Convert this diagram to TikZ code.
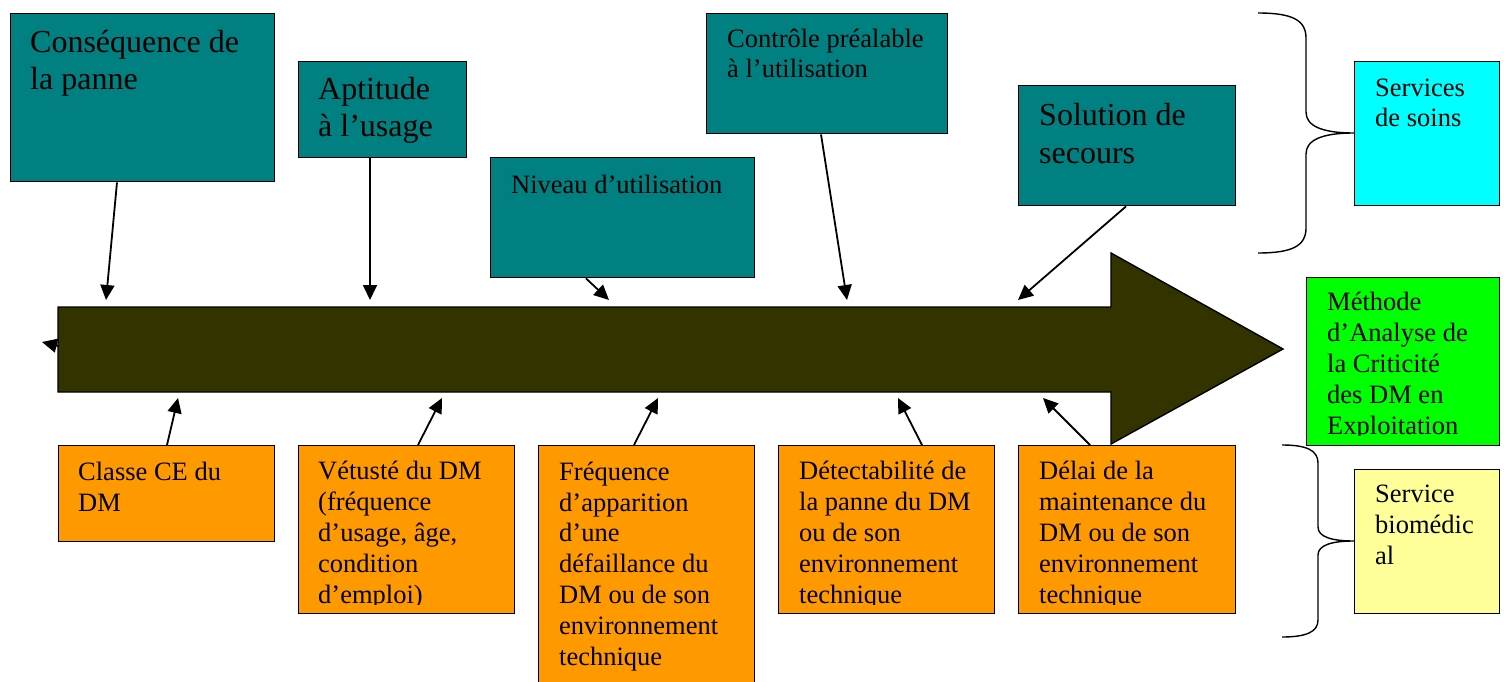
\documentclass[tikz,border=0pt]{standalone}
\usepackage{fontspec}
\setmainfont{Liberation Serif}
\usetikzlibrary{arrows.meta}

\definecolor{causeteal}{HTML}{008080}
\definecolor{factororange}{HTML}{FF9900}
\definecolor{shaftolive}{HTML}{333300}
\definecolor{soinscyan}{HTML}{00FFFF}
\definecolor{methgreen}{HTML}{00FF00}
\definecolor{bioyellow}{HTML}{FFFF99}

\tikzset{
  cause/.style={draw, line width=1.4pt, fill=causeteal, anchor=north west, inner sep=0pt},
  factor/.style={draw, line width=1.4pt, fill=factororange, anchor=north west, inner sep=0pt},
  % text nodes are placed by the baseline of their last line
  bigtxt/.style={anchor=base west, align=left, inner sep=0pt, font=\fontsize{32}{37.5}\selectfont},
  smalltxt/.style={anchor=base west, align=left, inner sep=0pt, font=\fontsize{26.5}{30.8}\selectfont},
  arr/.style={line width=1.8pt, -{Triangle[length=15pt,width=14pt]}},
  brace/.style={line width=1.4pt}
}

\begin{document}
\begin{tikzpicture}[x=1pt,y=-1pt]
  \useasboundingbox (0,0) rectangle (1504,682);

  % the main arrow
  \filldraw[fill=shaftolive, line width=1.4pt] (58,307) -- (1111,307) -- (1111,253) -- (1283,349)
    -- (1111,444) -- (1111,392) -- (58,392) -- cycle;

  % causes above
  \node[cause, minimum width=264, minimum height=168] (cons) at (10,13) {};
  \node[bigtxt] (consT) at (30,90) {Conséquence de\\la panne};
  \node[cause, minimum width=168, minimum height=96] (apt) at (298,61) {};
  \node[bigtxt] (aptT) at (318,137) {Aptitude\\à l’usage};
  \node[cause, minimum width=264, minimum height=120] (niv) at (490,157) {};
  \node[smalltxt] (nivT) at (511,193) {Niveau d’utilisation};
  \node[cause, minimum width=241, minimum height=120] (ctrl) at (706,13) {};
  \node[smalltxt] (ctrlT) at (727,78) {Contrôle préalable\\à l’utilisation};
  \node[cause, minimum width=217, minimum height=120] (sol) at (1018,85) {};
  \node[bigtxt] (solT) at (1039,163) {Solution de\\secours};

  % factors below
  \node[factor, minimum width=216, minimum height=96] (cls) at (58,445) {};
  \node[smalltxt] (clsT) at (78,511) {Classe CE du\\DM};
  \node[factor, minimum width=216, minimum height=168] (vet) at (298,445) {};
  \begin{scope}
    \clip (298,445) rectangle (514,604);
    \node[smalltxt] (vetT) at (318,603) {Vétusté du DM\\(fréquence\\d’usage, âge,\\condition\\d’emploi)};
  \end{scope}
  \node[factor, minimum width=216, minimum height=245] (freq) at (538,445) {};
  \node[smalltxt] (freqT) at (559,665) {Fréquence\\d’apparition\\d’une\\défaillance du\\DM ou de son\\environnement\\technique};
  \node[factor, minimum width=216, minimum height=168] (det) at (778,445) {};
  \begin{scope}
    \clip (778,445) rectangle (994,604);
    \node[smalltxt] (detT) at (799,603) {Détectabilité de\\la panne du DM\\ou de son\\environnement\\technique};
  \end{scope}
  \node[factor, minimum width=217, minimum height=168] (del) at (1018,445) {};
  \begin{scope}
    \clip (1018,445) rectangle (1235,604);
    \node[smalltxt] (delT) at (1039,603) {Délai de la\\maintenance du\\DM ou de son\\environnement\\technique};
  \end{scope}

  % right column
  \node[draw, line width=1.4pt, fill=soinscyan, anchor=north west, minimum width=145, minimum height=144] (soins) at (1354,61) {};
  \node[smalltxt] (soinsT) at (1375,127) {Services\\de soins};
  \node[draw, line width=1.4pt, fill=methgreen, anchor=north west, minimum width=193, minimum height=168] (meth) at (1306,277) {};
  \begin{scope}
    \clip (1306,277) rectangle (1499,435);
    \node[smalltxt] (methT) at (1327,434) {Méthode\\d’Analyse de\\la Criticité\\des DM en\\Exploitation};
  \end{scope}
  \node[draw, line width=1.4pt, fill=bioyellow, anchor=north west, minimum width=145, minimum height=144] (bio) at (1354,469) {};
  \node[smalltxt] (bioT) at (1375,564) {Service\\biomédic\\al};

  % braces
  \draw[brace] (1258,13) .. controls (1292,13) and (1306,20) .. (1306,38) -- (1306,112)
    .. controls (1306,126) and (1322,133) .. (soins.west |- 0,133)
    .. controls (1322,133) and (1306,140) .. (1306,154) -- (1306,228)
    .. controls (1306,246) and (1292,253) .. (1258,253);
  \draw[brace] (1282,445) .. controls (1306,445) and (1318,450) .. (1318,463) -- (1318,527)
    .. controls (1318,537) and (1332,541) .. (bio.west |- 0,541)
    .. controls (1332,541) and (1318,545) .. (1318,555) -- (1318,620)
    .. controls (1318,632) and (1306,637) .. (1282,637);

  % arrow ends near the shaft
  \coordinate (hitA) at (106,300);
  \coordinate (hitB) at (370,300);
  \coordinate (hitC) at (609,300);
  \coordinate (hitD) at (847,300);
  \coordinate (hitE) at (1018,300);
  \coordinate (lowA) at (178,398);
  \coordinate (lowB) at (442,398);
  \coordinate (lowC) at (658,398);
  \coordinate (lowD) at (898,398);
  \coordinate (lowE) at (1043,398);
  \coordinate (tailS) at (58,346);
  \coordinate (tailE) at (42,342);

  \draw[arr] ([xshift=107]cons.south west) -- (hitA);
  \draw[arr] ([xshift=72]apt.south west) -- (hitB);
  \draw[arr] ([xshift=96]niv.south west) -- (hitC);
  \draw[arr] ([xshift=115]ctrl.south west) -- (hitD);
  \draw[arr] ([xshift=108]sol.south west) -- (hitE);

  \draw[arr] ([xshift=109]cls.north west) -- (lowA);
  \draw[arr] ([xshift=120]vet.north west) -- (lowB);
  \draw[arr] ([xshift=96]freq.north west) -- (lowC);
  \draw[arr] ([xshift=144]det.north west) -- (lowD);
  \draw[arr] ([xshift=72]del.north west) -- (lowE);

  \draw[arr] (tailS) -- (tailE);
\end{tikzpicture}
\end{document}
